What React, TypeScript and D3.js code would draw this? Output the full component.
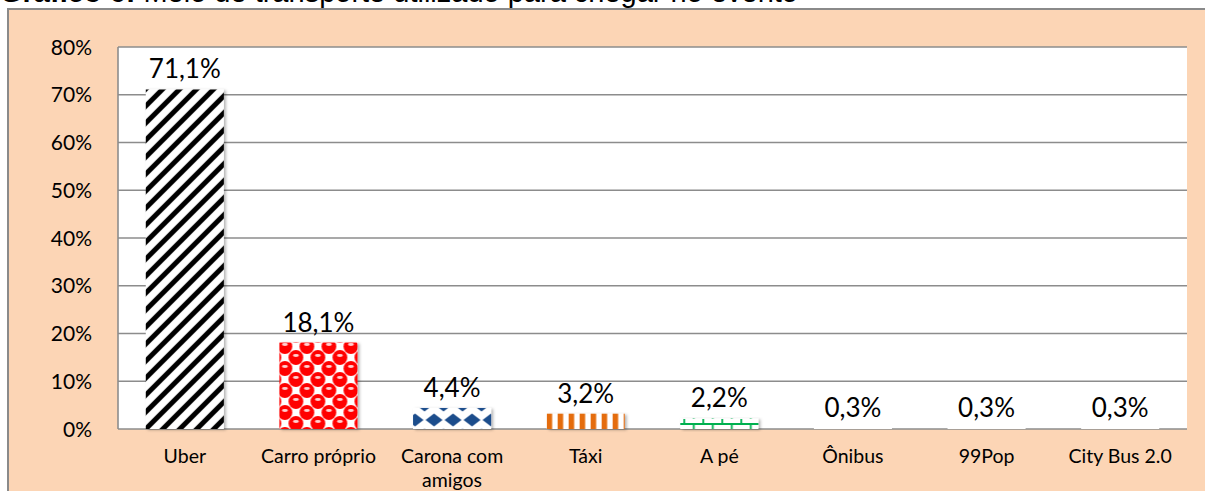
import { scaleBand, scaleLinear, formatLocale } from "d3";

const categories = [
  "Uber",
  "Carro próprio",
  "Carona com amigos",
  "Táxi",
  "A pé",
  "Ônibus",
  "99Pop",
  "City Bus 2.0",
];
const values = [71.1, 18.1, 4.4, 3.2, 2.2, 0.3, 0.3, 0.3];
const yTicks = [0, 10, 20, 30, 40, 50, 60, 70, 80];
const titleBold = "Gráfico 6:";
const titleRest = " Meio de transporte utilizado para chegar no evento";

const width = 1205;
const height = 491;
const plotLeft = 118;
const plotRight = 1187;
const plotTop = 47;
const plotBottom = 429;

const ptFormat = formatLocale({
  decimal: ",",
  thousands: ".",
  grouping: [3],
  currency: ["", ""],
}).format(".1f");

const font = "Lato, 'Open Sans', sans-serif";

// greedy wrap, ~14 chars per line
function wrap(label: string): string[] {
  const words = label.split(" ");
  const lines: string[] = [];
  let cur = "";
  for (const w of words) {
    const next = cur ? cur + " " + w : w;
    if (next.length > 14 && cur) {
      lines.push(cur);
      cur = w;
    } else cur = next;
  }
  if (cur) lines.push(cur);
  return lines;
}

export default function App() {
  const xScale = scaleBand<string>()
    .domain(categories)
    .range([plotLeft, plotRight])
    .paddingInner(0.416)
    .paddingOuter(0.208);

  const yScale = scaleLinear().domain([0, 80]).range([plotBottom, plotTop]);
  const y0 = yScale(0);
  const bw = xScale.bandwidth();

  const patternFor = (i: number, bx: number) => {
    const id = `pat${i}`;
    if (i === 0) {
      return (
        <pattern key={id} id={id} patternUnits="userSpaceOnUse" x={bx} y={y0} width={17} height={17}>
          <rect width={17} height={17} fill="#fff" />
          <path
            d="M-2,19 L19,-2 M-6,6 L6,-6 M11,23 L23,11"
            stroke="#000"
            strokeWidth={5}
          />
        </pattern>
      );
    }
    if (i === 1) {
      return (
        <pattern key={id} id={id} patternUnits="userSpaceOnUse" x={bx} y={y0} width={22} height={22}>
          <rect width={22} height={22} fill="#fff" />
          {[
            [5.5, 5.5],
            [16.5, 16.5],
            [-5.5, 16.5],
            [27.5, 5.5],
            [16.5, -5.5],
            [5.5, 27.5],
          ].map(([cx, cy], k) => (
            <g key={k}>
              <circle cx={cx} cy={cy} r={7.4} fill="#ff0000" />
              <ellipse cx={cx} cy={cy - 2} rx={3} ry={1.4} fill="#ffd0d0" />
            </g>
          ))}
        </pattern>
      );
    }
    if (i === 2) {
      const d = (cx: number, cy: number) =>
        `M${cx - 8.5},${cy} L${cx},${cy - 6.5} L${cx + 8.5},${cy} L${cx},${cy + 6.5} Z`;
      return (
        <pattern key={id} id={id} patternUnits="userSpaceOnUse" x={bx - 7.5} y={y0} width={19} height={30}>
          <rect width={19} height={30} fill="#fff" />
          <path d={d(9.5, 21) + d(0, 6) + d(19, 6) + d(0, 36) + d(19, 36)} fill="#1f4e8c" />
        </pattern>
      );
    }
    if (i === 3) {
      return (
        <pattern key={id} id={id} patternUnits="userSpaceOnUse" x={bx} y={y0} width={11} height={11}>
          <rect width={11} height={11} fill="#fff" />
          <rect width={5.5} height={11} fill="#e46c0a" />
        </pattern>
      );
    }
    return (
      <pattern key={id} id={id} patternUnits="userSpaceOnUse" x={bx} y={y0 - 10} width={19} height={10}>
        <rect width={19} height={10} fill="#fff" />
        <path d="M0,5 H19 M4,0 V5 M13.5,5 V10" stroke="#00b050" strokeWidth={1.8} />
      </pattern>
    );
  };

  return (
    <svg
      width={width}
      height={height}
      style={{ position: "absolute", left: 0, top: 0, display: "block" }}
    >
      <defs>
        {categories.map((c, i) => patternFor(i, xScale(c) as number))}
        <filter id="shadow" x="-10%" y="-10%" width="130%" height="130%">
          <feDropShadow dx={2} dy={1} stdDeviation={1.4} floodColor="#000" floodOpacity={0.3} />
        </filter>
      </defs>

      <text x={0} y={2} fontFamily="'Liberation Sans', Arial, sans-serif" fontSize={29} fill="#000">
        <tspan fontWeight="bold">{titleBold}</tspan>
        <tspan>{titleRest}</tspan>
      </text>

      <rect
        x={8}
        y={9}
        width={1300}
        height={600}
        fill="#fcd5b5"
        stroke="#8a8a8a"
        strokeWidth={2}
      />

      <rect
        x={plotLeft}
        y={plotTop}
        width={plotRight - plotLeft}
        height={plotBottom - plotTop}
        fill="#fff"
      />

      {yTicks.map((t) => (
        <g key={t}>
          <line
            x1={plotLeft}
            x2={plotRight}
            y1={yScale(t)}
            y2={yScale(t)}
            stroke="#8c8c8c"
            strokeWidth={1.6}
          />
          <text
            x={92}
            y={yScale(t)}
            dy="0.36em"
            textAnchor="end"
            fontFamily={font}
            fontSize={21}
            fill="#000"
          >
            {t}%
          </text>
        </g>
      ))}
      <line x1={plotLeft} x2={plotLeft} y1={plotTop} y2={plotBottom} stroke="#8c8c8c" strokeWidth={1.6} />

      {categories.map((c, i) => {
        const bx = xScale(c) as number;
        const by = yScale(values[i]);
        const cx = bx + bw / 2;
        return (
          <g key={c}>
            <rect
              x={bx}
              y={by}
              width={bw}
              height={y0 - by}
              fill={i < 5 ? `url(#pat${i})` : "#fff"}
              filter={i < 5 ? "url(#shadow)" : undefined}
            />
            <text
              x={cx}
              y={by - 11}
              textAnchor="middle"
              fontFamily={font}
              fontSize={26}
              fill="#000"
            >
              {ptFormat(values[i])}%
            </text>
            {wrap(c).map((line, k) => (
              <text
                key={k}
                x={cx}
                y={463 + k * 24}
                textAnchor="middle"
                fontFamily={font}
                fontSize={19.5}
                fill="#000"
              >
                {line}
              </text>
            ))}
          </g>
        );
      })}
    </svg>
  );
}
